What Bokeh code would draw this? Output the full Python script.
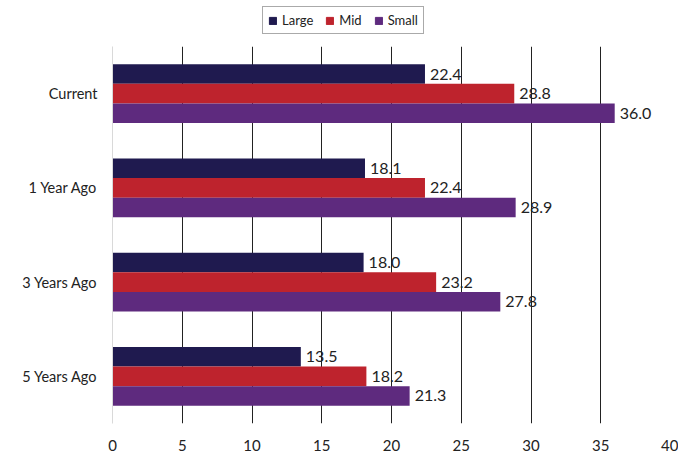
from bokeh.plotting import figure
from bokeh.models import ColumnDataSource, Legend, LegendItem, FixedTicker, Range1d
from bokeh.layouts import column
from bokeh.transform import dodge
from bokeh.core.properties import value
from bokeh.embed import file_html
from bokeh.resources import INLINE

periods = ["Current", "1 Year Ago", "3 Years Ago", "5 Years Ago"]
large = [22.4, 18.1, 18.0, 13.5]
mid = [28.8, 22.4, 23.2, 18.2]
small = [36.0, 28.9, 27.8, 21.3]
series_names = ["Large", "Mid", "Small"]
colors = ["#1F1A4F", "#BE232D", "#5E2A7E"]
x_ticks = [0, 5, 10, 15, 20, 25, 30, 35, 40]

FONT = "Lato"

src = ColumnDataSource(dict(
    period=periods,
    Large=large, Mid=mid, Small=small,
    Large_lbl=[f"{v:.1f}" for v in large],
    Mid_lbl=[f"{v:.1f}" for v in mid],
    Small_lbl=[f"{v:.1f}" for v in small],
))

p = figure(width=678, height=412, y_range=list(reversed(periods)), x_range=(0, 40),
           output_backend="svg", toolbar_location=None,
           min_border_left=112, min_border_right=8, min_border_top=0, min_border_bottom=35)

offsets = [0.207, 0.0, -0.207]
for name, col, off in zip(series_names, colors, offsets):
    p.hbar(y=dodge("period", off, range=p.y_range), right=name, left=0, height=0.207,
           source=src, fill_color=col, line_color=None)
    p.text(x=name, y=dodge("period", off, range=p.y_range), text=name + "_lbl", source=src,
           x_offset=5, text_baseline="middle", text_align="left",
           text_font=value(FONT), text_font_size="16px", text_color="#222222")

p.outline_line_color = None
p.ygrid.grid_line_color = None
p.xgrid.ticker = FixedTicker(ticks=x_ticks[1:])
p.xgrid.grid_line_color = "#222222"
p.xgrid.grid_line_width = 1

p.xaxis.ticker = FixedTicker(ticks=x_ticks)
p.xaxis.axis_line_color = None
p.xaxis.major_tick_line_color = None
p.xaxis.minor_tick_line_color = None
p.xaxis.major_label_standoff = 10
p.xaxis.major_label_text_font_size = "15px"
p.yaxis.axis_line_color = "#d9d9d9"
p.yaxis.major_tick_line_color = None
p.yaxis.minor_tick_line_color = None
p.yaxis.major_label_standoff = 9
p.yaxis.major_label_text_font_size = "14.5px"
for ax in (p.xaxis[0], p.yaxis[0]):
    ax.major_label_text_font = FONT
    ax.major_label_text_color = "#222222"

# legend strip above the chart
lf = figure(width=678, height=46, output_backend="svg", toolbar_location=None,
            x_range=Range1d(0, 1), y_range=Range1d(0, 1), min_border=0)
lf.axis.visible = False
lf.grid.visible = False
lf.outline_line_color = None
items = []
for name, col in zip(series_names, colors):
    r = lf.quad(left=[-3], right=[-2], bottom=[-3], top=[-2], fill_color=col, line_color=col)
    items.append(LegendItem(label=name, renderers=[r]))
legend = Legend(items=items, orientation="horizontal", location=(150, 12),
                label_text_font=FONT, label_text_font_size="13px", label_text_color="#222222",
                glyph_width=9, glyph_height=9, spacing=12, label_standoff=5,
                padding=5, margin=0, border_line_color="#555555", border_line_width=1,
                label_height=12)
lf.add_layout(legend, "center")

layout = column(lf, p, spacing=0)
open("out.html", "w").write(file_html(layout, INLINE))
